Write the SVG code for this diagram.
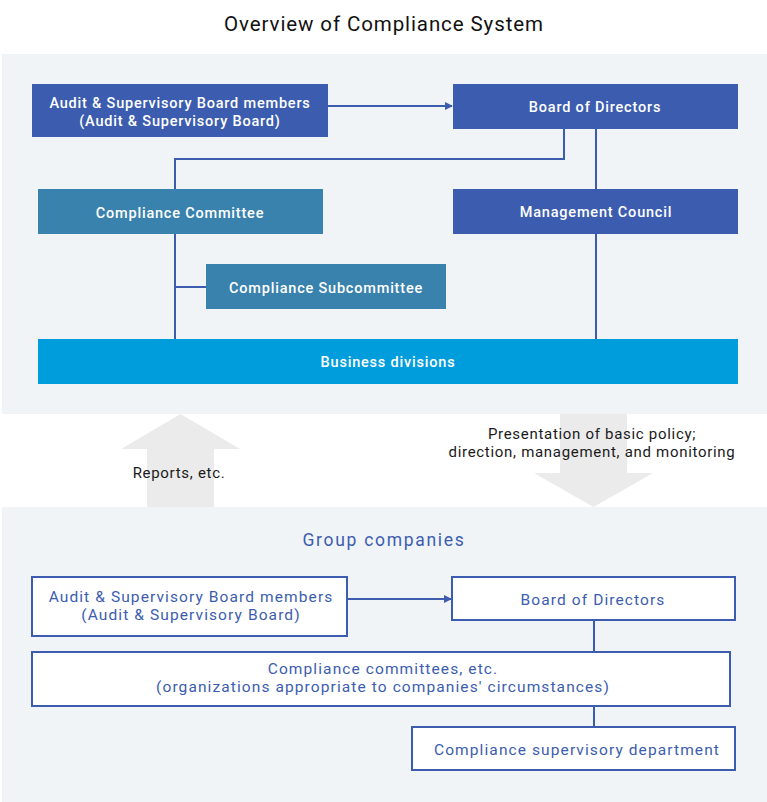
<svg xmlns="http://www.w3.org/2000/svg" width="767" height="802" viewBox="0 0 767 802">
<style>
.panel{fill:#f0f4f7}
.dark{fill:#3c5daf}
.teal{fill:#3a82ae}
.biz{fill:#009ddc}
.wbox{fill:#ffffff;stroke:#3c5daf;stroke-width:2}
.ln{fill:none;stroke:#3c5daf;stroke-width:2}
.big{fill:#ebebeb}
.wt{font-family:Roboto,"Liberation Sans",sans-serif;font-size:14.5px;font-weight:500;fill:#ffffff;text-anchor:middle;letter-spacing:0.8px}
.bt{font-family:Roboto,"Liberation Sans",sans-serif;font-size:15.5px;fill:#3c5daf;text-anchor:middle;letter-spacing:1.1px}
.kt{font-family:Roboto,"Liberation Sans",sans-serif;font-size:15px;fill:#1a1a1a;text-anchor:middle;letter-spacing:0.7px}
</style>
<defs>
<marker id="ah" markerWidth="8" markerHeight="8" refX="7" refY="4" orient="auto" markerUnits="userSpaceOnUse">
<path d="M0,0 L8,4 L0,8 Z" fill="#3c5daf"/>
</marker>
</defs>
<text x="384" y="31" font-family="Roboto,'Liberation Sans',sans-serif" font-size="20.5" fill="#111" text-anchor="middle" letter-spacing="0.9">Overview of Compliance System</text>
<rect class="panel" x="2" y="54" width="765" height="360"/>
<rect class="panel" x="2" y="507" width="765" height="295"/>
<g id="arrows-big">
<polygon class="big" points="180.5,414 240,449 214,449 214,507 147,507 147,449 121,449"/>
<polygon class="big" points="560,414 627,414 627,473 653,473 593.5,507 534,473 560,473"/>
</g>
<g id="connectors">
<line class="ln" x1="328" y1="106" x2="452" y2="106" marker-end="url(#ah)"/>
<polyline class="ln" points="564,129 564,159 175,159 175,189"/>
<line class="ln" x1="596" y1="129" x2="596" y2="189"/>
<line class="ln" x1="175" y1="234" x2="175" y2="339"/>
<line class="ln" x1="175" y1="287" x2="206" y2="287"/>
<line class="ln" x1="596" y1="234" x2="596" y2="339"/>
<line class="ln" x1="347" y1="599" x2="451" y2="599" marker-end="url(#ah)"/>
<line class="ln" x1="594" y1="620" x2="594" y2="652"/>
<line class="ln" x1="594" y1="706" x2="594" y2="727"/>
</g>
<g id="audit-top"><rect class="dark" x="32" y="84" width="296" height="53"/>
<text class="wt" x="180" y="108">Audit &amp; Supervisory Board members</text>
<text class="wt" x="180" y="126">(Audit &amp; Supervisory Board)</text></g>
<g id="board-top"><rect class="dark" x="453" y="84" width="285" height="45"/>
<text class="wt" x="595" y="112">Board of Directors</text></g>
<g id="compliance-committee"><rect class="teal" x="38" y="189" width="285" height="45"/>
<text class="wt" x="180" y="218">Compliance Committee</text></g>
<g id="management-council"><rect class="dark" x="453" y="189" width="285" height="45"/>
<text class="wt" x="596" y="217">Management Council</text></g>
<g id="compliance-subcommittee"><rect class="teal" x="206" y="264" width="240" height="45"/>
<text class="wt" x="326" y="293">Compliance Subcommittee</text></g>
<g id="business-divisions"><rect class="biz" x="38" y="339" width="700" height="45"/>
<text class="wt" x="388" y="367">Business divisions</text></g>
<text class="kt" x="179" y="478">Reports, etc.</text>
<text class="kt" x="592" y="439">Presentation of basic policy;</text>
<text class="kt" x="592" y="457">direction, management, and monitoring</text>
<text class="bt" x="384" y="546" style="font-size:17.5px;letter-spacing:1.7px">Group companies</text>
<g id="audit-group"><rect class="wbox" x="32" y="577" width="315" height="59"/>
<text class="bt" x="191" y="602">Audit &amp; Supervisory Board members</text>
<text class="bt" x="191" y="620">(Audit &amp; Supervisory Board)</text></g>
<g id="board-group"><rect class="wbox" x="452" y="577" width="283" height="43"/>
<text class="bt" x="593" y="605">Board of Directors</text></g>
<g id="committees-group"><rect class="wbox" x="32" y="652" width="698" height="54"/>
<text class="bt" x="383" y="674">Compliance committees, etc.</text>
<text class="bt" x="383" y="692">(organizations appropriate to companies' circumstances)</text></g>
<g id="supervisory-dept"><rect class="wbox" x="412" y="727" width="323" height="43"/>
<text class="bt" x="577" y="755">Compliance supervisory department</text></g>
</svg>
